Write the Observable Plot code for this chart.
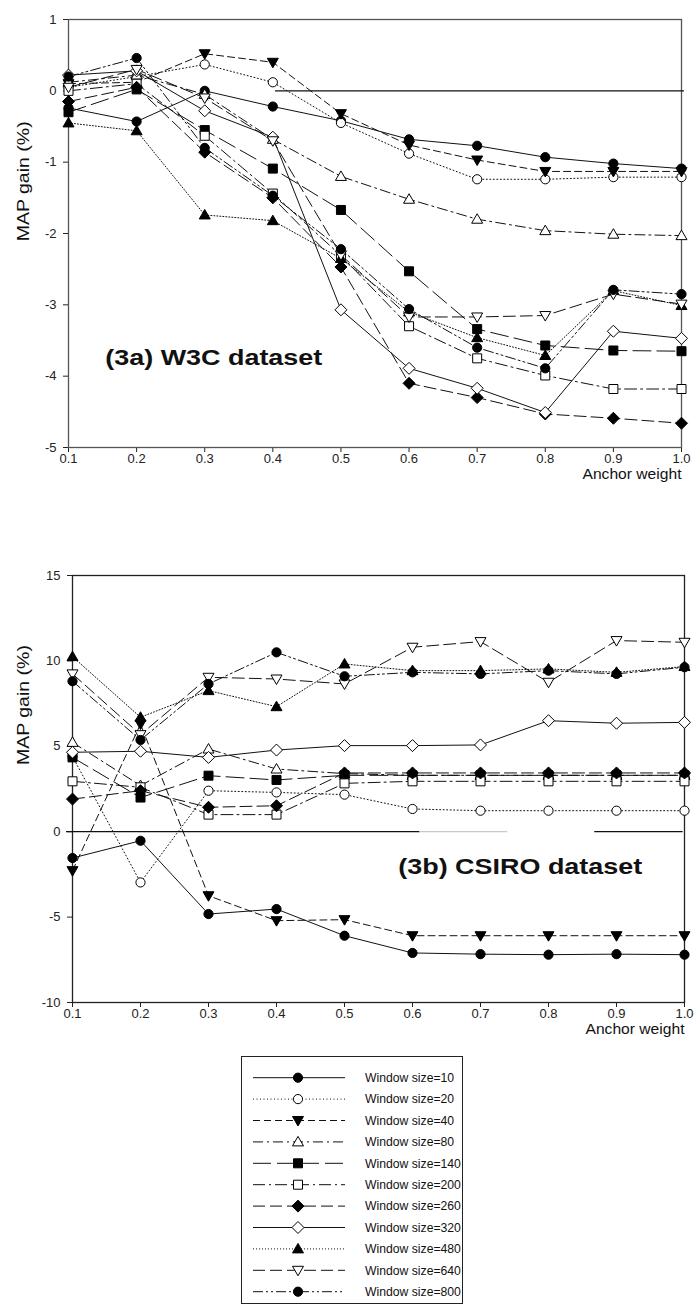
<!DOCTYPE html>
<html>
<head>
<meta charset="utf-8">
<script src="https://cdn.jsdelivr.net/npm/d3@7"></script>
<script src="https://cdn.jsdelivr.net/npm/@observablehq/plot@0.6"></script>
<style>
  html, body { margin: 0; padding: 0; background: #fff; }
  #page { position: relative; width: 696px; height: 1309px; overflow: hidden; font-family: 'Liberation Sans', Arial, sans-serif; }
  #page > svg { position: absolute; left: 0; }
</style>
</head>
<body>
<div id="page"></div>
<script>
// Anchor weights on the x axis, shared by both panels
const anchorWeights = [0.1, 0.2, 0.3, 0.4, 0.5, 0.6, 0.7, 0.8, 0.9, 1.0];
const windowSizes = [10, 20, 40, 80, 140, 200, 260, 320, 480, 640, 800];

// MAP gain (%) on the W3C dataset, one row per window size
const w3cGain = [
  [-0.24, -0.43,  0.00, -0.22, -0.42, -0.68, -0.77, -0.93, -1.02, -1.09],
  [ 0.05,  0.20,  0.37,  0.12, -0.45, -0.88, -1.24, -1.24, -1.21, -1.21],
  [ 0.10,  0.12,  0.52,  0.40, -0.32, -0.76, -0.97, -1.13, -1.13, -1.13],
  [ 0.12,  0.22, -0.05, -0.68, -1.20, -1.52, -1.80, -1.96, -2.01, -2.03],
  [-0.30,  0.02, -0.55, -1.09, -1.67, -2.53, -3.34, -3.57, -3.64, -3.65],
  [ 0.00,  0.10, -0.63, -1.44, -2.31, -3.30, -3.75, -3.99, -4.18, -4.18],
  [-0.15,  0.05, -0.86, -1.50, -2.47, -4.10, -4.30, -4.53, -4.59, -4.66],
  [ 0.22,  0.28, -0.28, -0.65, -3.07, -3.89, -4.17, -4.51, -3.37, -3.47],
  [-0.45, -0.56, -1.74, -1.82, -2.35, -3.10, -3.46, -3.71, -2.80, -3.01],
  [ 0.05,  0.30, -0.10, -0.70, -2.30, -3.17, -3.17, -3.15, -2.85, -2.99],
  [ 0.20,  0.46, -0.80, -1.47, -2.22, -3.06, -3.60, -3.89, -2.79, -2.85]
];

// MAP gain (%) on the CSIRO dataset, one row per window size
const csiroGain = [
  [-1.54, -0.53, -4.82, -4.53, -6.09, -7.10, -7.17, -7.20, -7.17, -7.20],
  [ 4.40, -2.97,  2.40,  2.30,  2.17,  1.33,  1.23,  1.23,  1.23,  1.23],
  [-2.28,  6.30, -3.75, -5.21, -5.15, -6.09, -6.09, -6.09, -6.09, -6.09],
  [ 5.23,  2.70,  4.84,  3.67,  3.40,  3.30,  3.30,  3.30,  3.30,  3.30],
  [ 4.35,  2.00,  3.28,  3.03,  3.30,  3.30,  3.30,  3.30,  3.30,  3.30],
  [ 2.95,  2.60,  1.00,  1.00,  2.83,  2.95,  2.95,  2.95,  2.95,  2.95],
  [ 1.91,  2.40,  1.43,  1.52,  3.44,  3.44,  3.44,  3.44,  3.44,  3.44],
  [ 4.65,  4.71,  4.35,  4.78,  5.04,  5.04,  5.08,  6.50,  6.35,  6.40],
  [10.25,  6.70,  8.26,  7.32,  9.82,  9.43,  9.43,  9.53,  9.33,  9.67],
  [ 9.24,  5.68,  9.04,  8.94,  8.65, 10.80, 11.13,  8.75, 11.19, 11.09],
  [ 8.81,  5.37,  8.65, 10.50,  9.10,  9.33,  9.24,  9.43,  9.24,  9.63]
];

// Tick values
const w3cTicks = [1, 0, -1, -2, -3, -4, -5];
const csiroTicks = [15, 10, 5, 0, -5, -10];

// Zero reference lines (extent in anchor-weight units)
const w3cZero = [{y: 0, x1: 0.404, x2: 1.0044, shade: "#111"}];
const csiroZero = [
  {y: 0, x1: 0.0912, x2: 0.611, shade: "#111"},
  {y: 0, x1: 0.611, x2: 0.740, shade: "#c8c8c8"},
  {y: 0, x1: 0.868, x2: 0.998, shade: "#111"}
];

// Marker shapes; the symbol size passed in corresponds to r = 5
const symbolOf = (fn) => ({draw(ctx, size) { fn(ctx, Math.sqrt(size / Math.PI) / 5); }});
const circle = symbolOf((c, k) => { const r = 4.6 * k; c.moveTo(r, 0); c.arc(0, 0, r, 0, 2 * Math.PI); c.closePath(); });
const square = symbolOf((c, k) => { const h = 4.5 * k; c.moveTo(-h, -h); c.lineTo(h, -h); c.lineTo(h, h); c.lineTo(-h, h); c.closePath(); });
const diamond = symbolOf((c, k) => { const h = 6 * k; c.moveTo(0, -h); c.lineTo(h, 0); c.lineTo(0, h); c.lineTo(-h, 0); c.closePath(); });
const triUp = symbolOf((c, k) => { const w = 5.5 * k; c.moveTo(0, -5.5 * k); c.lineTo(w, 4 * k); c.lineTo(-w, 4 * k); c.closePath(); });
const triDown = symbolOf((c, k) => { const w = 5.5 * k; c.moveTo(0, 5.5 * k); c.lineTo(w, -4 * k); c.lineTo(-w, -4 * k); c.closePath(); });

// Per-series styling, in windowSizes order
const dashes = [undefined, "1,2.5", "7,4", "10,4,2,4", "18,6", "12,4,2,4", "12,5", undefined, "1,2", "12,5", "10,3,2,3,2,3"];
const shapes = [circle, circle, triDown, triUp, square, square, diamond, diamond, triUp, triDown, circle];
const solidFill = [true, false, true, false, true, false, true, false, true, false, true];

const FONT = "'Liberation Sans', Arial, sans-serif";

function stretch(svg, text, length) {
  d3.select(svg).selectAll("text")
    .filter(function () { return this.textContent === text; })
    .attr("textLength", length)
    .attr("lengthAdjust", "spacingAndGlyphs");
}

function panel(o) {
  const rows = windowSizes.flatMap((w, i) => anchorWeights.map((x, j) => ({w, x, gain: o.values[i][j]})));
  const series = windowSizes.map((w) => rows.filter((d) => d.w === w));
  const svg = Plot.plot({
    width: 696,
    height: o.height,
    marginTop: o.marginTop,
    marginBottom: o.marginBottom,
    marginLeft: o.marginLeft,
    marginRight: o.marginRight,
    style: {fontFamily: FONT, fontSize: "13px", color: "#222", background: "#fff", overflow: "visible"},
    x: {domain: [0.1, 1.0], ticks: anchorWeights, tickFormat: (d) => d.toFixed(1), tickSize: 5, tickPadding: 1, label: null},
    y: {domain: o.domain, ticks: o.ticks, tickFormat: (d) => String(d), tickSize: 5, tickPadding: 7, label: null},
    color: {type: "identity"},
    marks: [
      Plot.frame({stroke: o.axisColor, strokeWidth: 1.3}),
      Plot.ruleY(o.zero, {y: "y", x1: "x1", x2: "x2", stroke: "shade", strokeWidth: 1.2}),
      ...series.map((s, i) => Plot.line(s, {x: "x", y: "gain", stroke: "#111", strokeWidth: 1, strokeDasharray: dashes[i]})),
      ...series.map((s, i) => Plot.dot(s, {x: "x", y: "gain", r: 5, symbol: shapes[i], fill: solidFill[i] ? "#000" : "#fff", stroke: "#000", strokeWidth: 1})),
      Plot.text([o.title], {x: o.titleX, y: o.titleY, text: (d) => d.text, textAnchor: "start", fontSize: 22, fontWeight: "bold", fill: "#111"}),
      Plot.text([{text: "MAP gain (%)", v: o.labelY}], {y: "v", text: "text", frameAnchor: "left", dx: o.labelDx, rotate: -90, fontSize: 17, fill: "#111"}),
      Plot.text([{text: "Anchor weight"}], {text: "text", frameAnchor: "bottom-right", dy: 31, textAnchor: "end", fontSize: 14.5, fill: "#111"})
    ]
  });
  stretch(svg, o.title.text, o.titleLength);
  stretch(svg, "MAP gain (%)", 120);
  stretch(svg, "Anchor weight", 99);
  svg.style.top = o.top + "px";
  return svg;
}

const page = document.getElementById("page");

page.appendChild(panel({
  values: w3cGain, domain: [-5, 1], ticks: w3cTicks, zero: w3cZero,
  top: 0, height: 530, marginTop: 19, marginBottom: 83, marginLeft: 68, marginRight: 15,
  axisColor: "#555",
  title: {text: "(3a) W3C dataset", x: 0.154, y: -3.74}, titleX: (d) => d.x, titleY: (d) => d.y, titleLength: 217,
  labelY: -2.11, labelDx: -45
}));

page.appendChild(panel({
  values: csiroGain, domain: [-10, 15], ticks: csiroTicks, zero: csiroZero,
  top: 530, height: 515, marginTop: 45, marginBottom: 43, marginLeft: 72, marginRight: 12,
  axisColor: "#222",
  title: {text: "(3b) CSIRO dataset", x: 0.579, y: -2.04}, titleX: (d) => d.x, titleY: (d) => d.y, titleLength: 244,
  labelY: 3.9, labelDx: -49
}));

// Legend box below the second panel
const legend = d3.create("svg")
  .attr("width", 224).attr("height", 250)
  .style("top", "1056px").style("left", "241px")
  .style("overflow", "visible")
  .style("font-family", FONT);
legend.append("rect")
  .attr("x", 0.5).attr("y", 0.5).attr("width", 221).attr("height", 247)
  .attr("fill", "#fff").attr("stroke", "#222").attr("stroke-width", 1);
const entry = legend.selectAll("g.entry").data(windowSizes).join("g")
  .attr("class", "entry")
  .attr("transform", (d, i) => `translate(0,${21.7 + i * 21.4})`);
entry.append("line")
  .attr("x1", 12).attr("x2", 104)
  .attr("stroke", "#111").attr("stroke-width", 1)
  .attr("stroke-dasharray", (d, i) => dashes[i] || null);
entry.append("path")
  .attr("transform", "translate(57,0)")
  .attr("d", (d, i) => d3.symbol(shapes[i], Math.PI * 25)())
  .attr("fill", (d, i) => solidFill[i] ? "#000" : "#fff")
  .attr("stroke", "#000").attr("stroke-width", 1);
entry.append("text")
  .attr("x", 124).attr("dy", "0.35em")
  .attr("font-size", 12.2).attr("fill", "#111")
  .text((d) => `Window size=${d}`);
legend.node().style.position = "absolute";
page.appendChild(legend.node());
</script>
</body>
</html>
